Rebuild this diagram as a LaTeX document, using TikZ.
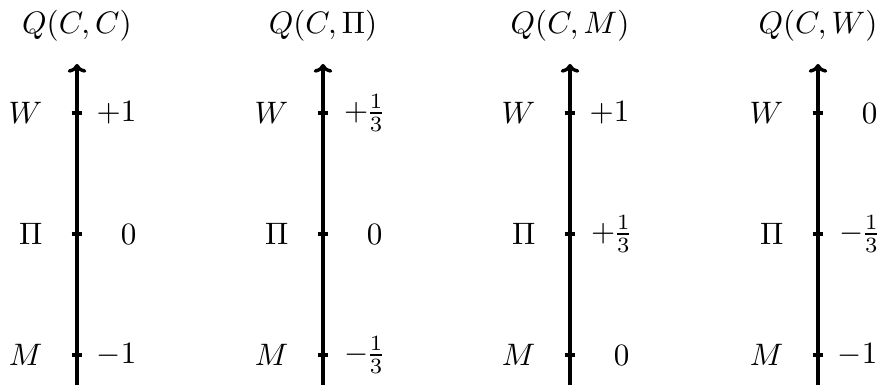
\documentclass[tikz,border=0pt]{standalone}
\usetikzlibrary{arrows.meta}
\begin{document}
\nulldelimiterspace=0pt
\begin{tikzpicture}[x=0.322pt,y=-0.322pt,
  axisline/.style={line width=1.1pt,-{To[length=2.8pt,width=6pt]}},
  tickmark/.style={line width=1.1pt},
  leftlab/.style={anchor=east,inner sep=0pt},
  rightlab/.style={anchor=east,inner sep=0pt},
  ttl/.style={anchor=base,inner sep=0pt}]
\useasboundingbox (0,0) rectangle (881,385);
\foreach \i/\x/\t/\vw/\vp/\vm in {
  1/77/{Q(C,C)}/{+1}/{0}/{-1},
  2/323/{Q(C,\Pi)}/{+\mkern1mu\frac{1}{3}}/{0}/{-\mkern1mu\frac{1}{3}},
  3/570/{Q(C,M)}/{+1}/{+\mkern1mu\frac{1}{3}}/{0},
  4/818/{Q(C,W)}/{0}/{-\mkern1mu\frac{1}{3}}/{-1}}{
  \coordinate (bot\i) at (\x,392);
  \coordinate (top\i) at (\x,64);
  \coordinate (tw\i) at (\x,113);
  \coordinate (tp\i) at (\x,234);
  \coordinate (tm\i) at (\x,355);
  \draw[axisline] (bot\i) -- (top\i);
  \foreach \c in {tw,tp,tm}{
    \draw[tickmark] ([xshift=-1.7pt]\c\i) -- ([xshift=1.7pt]\c\i);
  }
  \node[ttl] (title\i) at (\x,33) {$\t$};
  \node[leftlab] (lw\i) at (\x-34,113) {$W$};
  \node[leftlab] (lp\i) at (\x-34,234) {$\Pi$};
  \node[leftlab] (lm\i) at (\x-34,355) {$M$};
  \node[rightlab] (rw\i) at (\x+60,113) {$\vw$};
  \node[rightlab] (rp\i) at (\x+60,234) {$\vp$};
  \node[rightlab] (rm\i) at (\x+60,355) {$\vm$};
}
\end{tikzpicture}
\end{document}
